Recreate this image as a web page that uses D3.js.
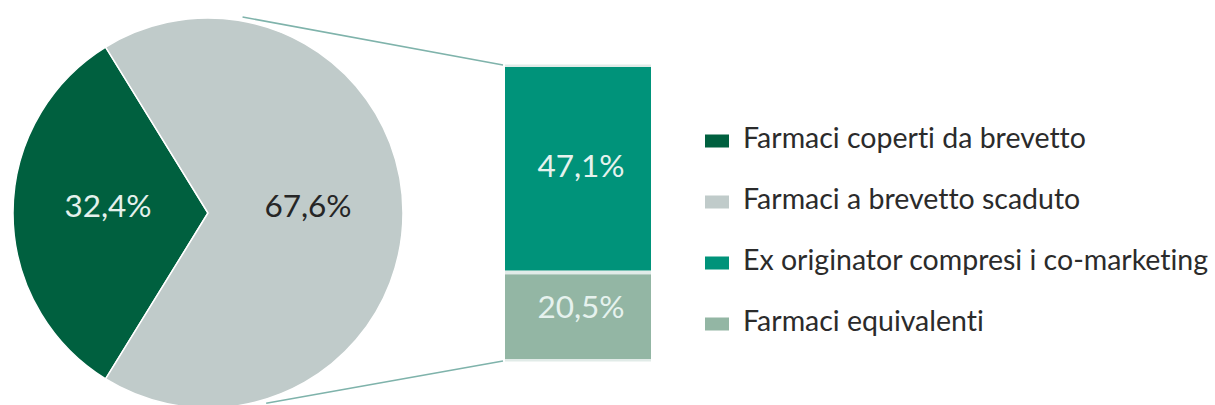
<!DOCTYPE html>
<html>
<head>
<meta charset="utf-8">
<script src="https://cdn.jsdelivr.net/npm/d3@7"></script>
<style>
	body { margin: 0; background: #fff; }
	text { font-family: Lato, "Open Sans", sans-serif; font-variant-ligatures: none; }
</style>
</head>
<body>
<svg width="1215" height="405"></svg>
<script>

// pie: the two main groups
const pieNames = ['Farmaci coperti da brevetto', 'Farmaci a brevetto scaduto'];
const pieValues = [32.4, 67.6];
const pieLabels = ['32,4%', '67,6%'];

// bar: breakdown of the expired-patent group
const barNames = ['Ex originator compresi i co-marketing', 'Farmaci equivalenti'];
const barValues = [47.1, 20.5];
const barLabels = ['47,1%', '20,5%'];

const COLORS = ['#00603f', '#c0cbca', '#00937a', '#93b6a4'];

function whenDocumentLoaded(action) {
	if (document.readyState === 'loading') {
		document.addEventListener('DOMContentLoaded', action);
	} else {
		action();
	}
}

whenDocumentLoaded(() => {

	const svg = d3.select('svg');

	const cx = 208, cy = 213, radius = 195;

	// dark slice centred on the left side (9 o'clock)
	const start = 1.5 * Math.PI - Math.PI * pieValues[0] / 100;
	const pie = d3.pie().sort(null).startAngle(start).endAngle(start + 2 * Math.PI);
	const arc = d3.arc().innerRadius(0).outerRadius(radius);
	const labelArc = d3.arc().innerRadius(100).outerRadius(100);

	const pieG = svg.append('g')
	.attr('transform', 'translate(' + cx + ' ' + cy + ')');

	const slices = pie(pieValues);

	pieG.selectAll('.slice')
	.data(slices)
	.enter()
	.append('path')
	.attr('class', 'slice')
	.attr('d', arc)
	.attr('fill', (d, i) => COLORS[i])
	.attr('stroke', '#fff')
	.attr('stroke-width', 1.5);

	pieG.selectAll('.plabel')
	.data(slices)
	.enter()
	.append('text')
	.attr('class', 'plabel')
	.attr('x', d => labelArc.centroid(d)[0])
	.attr('y', d => labelArc.centroid(d)[1] - 4)
	.attr('text-anchor', 'middle')
	.attr('dominant-baseline', 'middle')
	.attr('font-size', 31.5)
	.attr('fill', (d, i) => i === 0 ? '#e4f1ec' : '#262626')
	.text((d, i) => pieLabels[i]);

	// stacked bar
	const barX = 505, barW = 146;
	const yScale = d3.scaleLinear()
	.domain([0, d3.sum(barValues)])
	.range([67, 359]);

	let acc = 0;
	const stack = barValues.map(v => {
		const s = { y0: acc, y1: acc + v };
		acc += v;
		return s;
	});

	// pale frame behind the bar
	svg.append('rect')
	.attr('x', barX)
	.attr('y', yScale(0) - 2.5)
	.attr('width', barW)
	.attr('height', yScale(acc) - yScale(0) + 5)
	.attr('fill', '#e1ebe8');

	svg.selectAll('.seg')
	.data(stack)
	.enter()
	.append('rect')
	.attr('class', 'seg')
	.attr('x', barX)
	.attr('y', (d, i) => yScale(d.y0) + (i > 0 ? 4 : 0))
	.attr('width', barW)
	.attr('height', (d, i) => yScale(d.y1) - yScale(d.y0) - (i > 0 ? 4 : 0))
	.attr('fill', (d, i) => COLORS[i + 2]);

	svg.selectAll('.blabel')
	.data(stack)
	.enter()
	.append('text')
	.attr('class', 'blabel')
	.attr('x', barX + barW / 2 + 3)
	.attr('y', (d, i) => (yScale(d.y0) + yScale(d.y1)) / 2 + (i > 0 ? -5 : 0))
	.attr('text-anchor', 'middle')
	.attr('dominant-baseline', 'middle')
	.attr('font-size', 31.5)
	.attr('fill', '#e6f2ee')
	.text((d, i) => barLabels[i]);

	// connector lines from the pie edge to the bar corners
	const onPie = a => [cx + (radius + 4) * Math.sin(a), cy - (radius + 4) * Math.cos(a)];
	const links = [
		[onPie(10 * Math.PI / 180), [barX - 2, yScale(0) - 2]],
		[onPie(163 * Math.PI / 180), [barX - 2, yScale(acc) + 2]]
	];

	svg.selectAll('.link')
	.data(links)
	.enter()
	.append('line')
	.attr('class', 'link')
	.attr('x1', d => d[0][0])
	.attr('y1', d => d[0][1])
	.attr('x2', d => d[1][0])
	.attr('y2', d => d[1][1])
	.attr('stroke', '#7fb3ab')
	.attr('stroke-width', 1.6);

	// legend
	const legendNames = pieNames.concat(barNames);
	const legend = svg.selectAll('.legend')
	.data(legendNames)
	.enter()
	.append('g')
	.attr('class', 'legend')
	.attr('transform', (d, i) => 'translate(705 ' + (141 + i * 61) + ')');

	legend.append('rect')
	.attr('x', 0)
	.attr('y', -6.5)
	.attr('width', 24)
	.attr('height', 13)
	.attr('fill', (d, i) => COLORS[i]);

	legend.append('text')
	.attr('x', 38)
	.attr('y', 0)
	.attr('dominant-baseline', 'middle')
	.attr('font-size', 28.5)
	.attr('fill', '#2b2b2b')
	.text(d => d);

});

</script>
</body>
</html>
